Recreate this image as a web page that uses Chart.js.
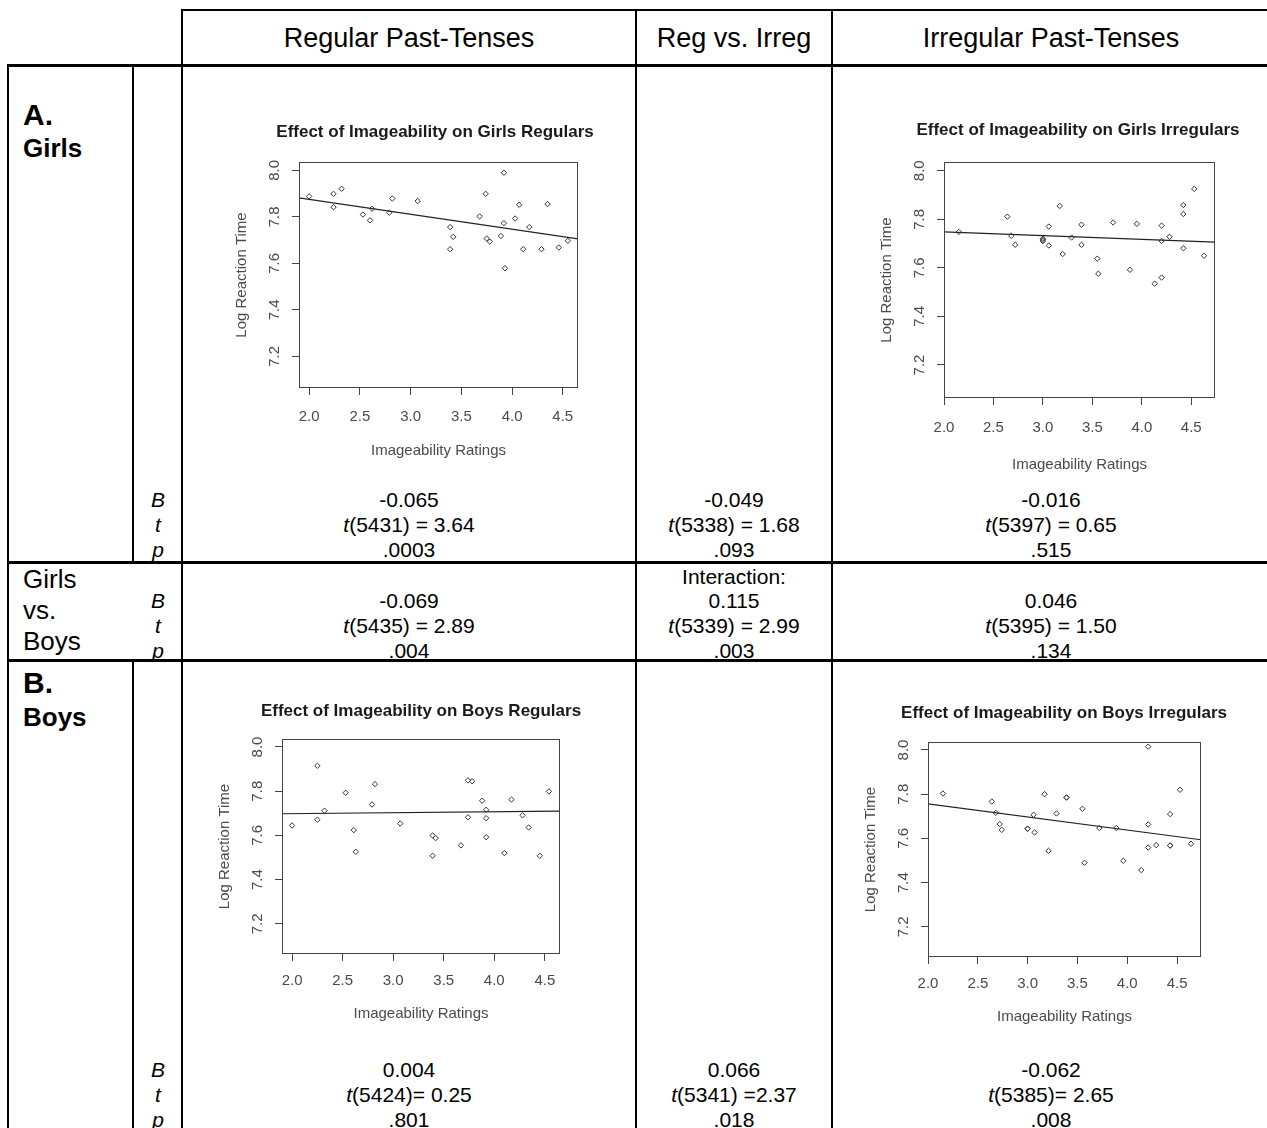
<!DOCTYPE html>
<html><head><meta charset="utf-8">
<script src="https://cdn.jsdelivr.net/npm/chart.js@4.4.1/dist/chart.umd.min.js"></script>
<style>
html,body{margin:0;padding:0;background:#fff;overflow:hidden;width:1267px;height:1128px}
#page{position:relative;width:1267px;height:1128px;font-family:"Liberation Sans",Arial,sans-serif;color:#000;overflow:hidden}
.ln{position:absolute;background:#000}
.tx{position:absolute;white-space:nowrap;line-height:1}
canvas{position:absolute}
</style></head><body><div id="page"></div>
<script>
// ---------------- DATA ----------------
const colHeaders = ['Regular Past-Tenses', 'Reg vs. Irreg', 'Irregular Past-Tenses'];
const statLetters = ['B', 't', 'p'];

const girlsB = ['-0.065', '-0.049', '-0.016'];
const girlsT = ['(5431) = 3.64', '(5338) = 1.68', '(5397) = 0.65'];
const girlsP = ['.0003', '.093', '.515'];

const compNote = ['', 'Interaction:', ''];
const compB = ['-0.069', '0.115', '0.046'];
const compT = ['(5435) = 2.89', '(5339) = 2.99', '(5395) = 1.50'];
const compP = ['.004', '.003', '.134'];

const boysB = ['0.004', '0.066', '-0.062'];
const boysT = ['(5424)= 0.25', '(5341) =2.37', '(5385)= 2.65'];
const boysP = ['.801', '.018', '.008'];

const chartTitles = ['Effect of Imageability on Girls Regulars', 'Effect of Imageability on Girls Irregulars',
                     'Effect of Imageability on Boys Regulars', 'Effect of Imageability on Boys Irregulars'];
const xAxisTitle = 'Imageability Ratings';
const yAxisTitle = 'Log Reaction Time';
const xTickVals = [2.0, 2.5, 3.0, 3.5, 4.0, 4.5];
const yTickVals = [7.2, 7.4, 7.6, 7.8, 8.0];

const girlsRegX = [2.00, 2.24, 2.24, 2.32, 2.53, 2.62, 2.60, 2.79, 2.82, 3.07, 3.39, 3.42, 3.39, 3.68, 3.74, 3.75, 3.78, 3.92, 3.92, 3.89, 3.93, 4.03, 4.07, 4.11, 4.17, 4.29, 4.35, 4.46, 4.55];
const girlsRegY = [7.888, 7.899, 7.842, 7.921, 7.810, 7.835, 7.785, 7.818, 7.879, 7.868, 7.756, 7.714, 7.661, 7.802, 7.899, 7.707, 7.694, 7.990, 7.773, 7.718, 7.579, 7.793, 7.852, 7.661, 7.756, 7.661, 7.855, 7.668, 7.697];
const girlsRegFit = [7.882, 7.705];

const girlsIrrX = [2.15, 2.64, 2.68, 2.72, 3.00, 3.00, 3.00, 3.06, 3.06, 3.17, 3.20, 3.29, 3.39, 3.39, 3.55, 3.56, 3.71, 3.88, 3.95, 4.13, 4.20, 4.20, 4.20, 4.28, 4.42, 4.42, 4.42, 4.53, 4.63];
const girlsIrrY = [7.748, 7.811, 7.732, 7.695, 7.720, 7.715, 7.710, 7.770, 7.692, 7.855, 7.657, 7.725, 7.778, 7.695, 7.638, 7.576, 7.787, 7.592, 7.781, 7.535, 7.774, 7.711, 7.560, 7.728, 7.859, 7.822, 7.681, 7.925, 7.650];
const girlsIrrFit = [7.748, 7.706];

const boysRegX = [2.00, 2.25, 2.25, 2.32, 2.53, 2.61, 2.63, 2.79, 2.82, 3.07, 3.39, 3.39, 3.42, 3.67, 3.74, 3.78, 3.74, 3.88, 3.92, 3.92, 3.92, 4.10, 4.17, 4.28, 4.34, 4.45, 4.54];
const boysRegY = [7.645, 7.915, 7.671, 7.712, 7.793, 7.624, 7.526, 7.740, 7.832, 7.654, 7.600, 7.508, 7.588, 7.555, 7.849, 7.845, 7.682, 7.757, 7.716, 7.678, 7.592, 7.520, 7.762, 7.691, 7.636, 7.508, 7.799];
const boysRegFit = [7.698, 7.710];

const boysIrrX = [2.15, 2.64, 2.68, 2.72, 2.74, 3.00, 3.00, 3.06, 3.07, 3.17, 3.21, 3.29, 3.39, 3.39, 3.55, 3.57, 3.72, 3.89, 3.96, 4.14, 4.21, 4.21, 4.21, 4.29, 4.43, 4.43, 4.43, 4.53, 4.64];
const boysIrrY = [7.803, 7.767, 7.716, 7.665, 7.639, 7.644, 7.644, 7.707, 7.627, 7.800, 7.544, 7.713, 7.785, 7.785, 7.734, 7.490, 7.647, 7.647, 7.499, 7.457, 8.015, 7.663, 7.559, 7.570, 7.710, 7.568, 7.568, 7.820, 7.576];
const boysIrrFit = [7.756, 7.594];

const regXRange = [1.9, 4.65];
const irrXRange = [2.0, 4.74];
const yRange = [7.064, 8.036];

// ---------------- LAYOUT ----------------
const FONT = '"Liberation Sans", Arial, sans-serif';
const page = document.getElementById('page');
function line(l, t, w, h) { const d = document.createElement('div'); d.className = 'ln'; Object.assign(d.style, {left: l + 'px', top: t + 'px', width: w + 'px', height: h + 'px'}); page.appendChild(d); }
function text(str, x, y, size, opts = {}) {
  const d = document.createElement('div'); d.className = 'tx';
  d.innerHTML = str;
  d.style.left = x + 'px'; d.style.top = y + 'px'; d.style.fontSize = size + 'px';
  if (opts.bold) d.style.fontWeight = 'bold';
  if (opts.italic) d.style.fontStyle = 'italic';
  d.style.transform = opts.left ? 'translate(0,-50%)' : 'translate(-50%,-50%)';
  page.appendChild(d);
}
// table lines
line(182, 9, 1085, 2);
line(8, 64, 1259, 3);
line(8, 561, 1259, 3);
line(8, 659, 1259, 3);
line(7, 64, 2, 1064);
line(132, 64, 2, 498);
line(132, 660, 2, 468);
line(181, 9, 2, 1119);
line(635, 9, 2, 1119);
line(831, 9, 2, 1119);

const colCx = [409, 734, 1051];
colHeaders.forEach((h, i) => text(h, colCx[i], 38, 27));

text('A.', 23, 115, 30, {bold: true, left: true});
text('Girls', 23, 148, 26, {bold: true, left: true});
text('Girls', 23, 579, 26, {left: true});
text('vs.', 23, 610, 26, {left: true});
text('Boys', 23, 641, 26, {left: true});
text('B.', 23, 683, 30, {bold: true, left: true});
text('Boys', 23, 717, 26, {bold: true, left: true});

function statBlock(ys, B, T, P) {
  statLetters.forEach((s, k) => text(s, 158, ys[k], 21, {italic: true}));
  for (let i = 0; i < 3; i++) {
    text(B[i], colCx[i], ys[0], 21);
    text('<i>t</i>' + T[i], colCx[i], ys[1], 21);
    text(P[i], colCx[i], ys[2], 21);
  }
}
statBlock([499, 524, 549], girlsB, girlsT, girlsP);
statBlock([600, 625, 650], compB, compT, compP);
compNote.forEach((n, i) => { if (n) text(n, colCx[i], 576, 21); });
statBlock([1069, 1094, 1119], boysB, boysT, boysP);

// ---------------- CHARTS ----------------
const framePlugin = {
  id: 'frame',
  afterDatasetsDraw(chart) {
    const a = chart.chartArea, ctx = chart.ctx;
    ctx.save(); ctx.strokeStyle = '#444'; ctx.lineWidth = 1;
    ctx.strokeRect(Math.round(a.left) + 0.5, Math.round(a.top) + 0.5, Math.round(a.right - a.left) - 1, Math.round(a.bottom - a.top) - 1);
    ctx.restore();
  }
};

function makeChart(cfg) {
  const [bl, bt, br, bb] = cfg.box;
  const L = bl - 71, W = 2 * (cfg.titleCx - L), R = L + W - br;
  const T = bt - 60, xH = cfg.xTitleOff + 12, H = bb - T + xH;
  const titlePt = 60 - cfg.titleOff - 10.2, titlePb = 60 - 20.4 - titlePt;
  const c = document.createElement('canvas');
  c.width = W; c.height = H;
  Object.assign(c.style, {left: L + 'px', top: T + 'px', width: W + 'px', height: H + 'px'});
  page.appendChild(c);
  const pts = cfg.xs.map((x, i) => ({x, y: cfg.ys[i]}));
  const fit = [{x: cfg.xr[0], y: cfg.fit[0]}, {x: cfg.xr[1], y: cfg.fit[1]}];
  const axisFont = {family: FONT, size: 15};
  const gridOpts = {drawOnChartArea: false, drawTicks: true, tickLength: 7, color: '#444', lineWidth: 1};
  new Chart(c, {
    type: 'scatter',
    data: {datasets: [
      {data: pts, pointStyle: 'rectRot', pointRadius: 2.7, borderColor: '#333', backgroundColor: 'rgba(0,0,0,0)', borderWidth: 1},
      {data: fit, showLine: true, pointRadius: 0, borderColor: '#222', borderWidth: 1.2, fill: false}
    ]},
    options: {
      responsive: false, animation: false, devicePixelRatio: 1,
      layout: {padding: 0},
      plugins: {
        legend: {display: false}, tooltip: {enabled: false},
        title: {display: true, text: cfg.title, color: '#1a1a1a', font: {family: FONT, size: 17, weight: 'bold', lineHeight: 1.2}, padding: {top: titlePt, bottom: titlePb}}
      },
      scales: {
        x: {type: 'linear', position: 'bottom', min: cfg.xr[0], max: cfg.xr[1], bounds: 'data',
            grid: gridOpts, border: {display: false},
            afterBuildTicks: s => { s.ticks = xTickVals.map(v => ({value: v})); },
            ticks: {autoSkip: false, maxRotation: 0, padding: cfg.tickOff - 16, color: '#4a4a4a', font: axisFont, callback: v => Number(v).toFixed(1)},
            title: {display: true, text: xAxisTitle, color: '#4a4a4a', font: axisFont, padding: {top: 0, bottom: 3}},
            afterFit: s => { s.height = xH; }},
        y: {type: 'linear', position: 'left', min: yRange[0], max: yRange[1], bounds: 'data',
            grid: gridOpts, border: {display: false},
            afterBuildTicks: s => { s.ticks = yTickVals.map(v => ({value: v})); },
            ticks: {autoSkip: false, minRotation: 90, maxRotation: 90, crossAlign: 'center', padding: 6.5, color: '#4a4a4a', font: axisFont, callback: v => Number(v).toFixed(1)},
            title: {display: true, text: yAxisTitle, color: '#4a4a4a', font: axisFont, padding: {top: 5, bottom: 0}},
            afterFit: s => { s.width = 71; }},
        yR: {type: 'linear', position: 'right', display: true, grid: {display: false}, border: {display: false}, ticks: {display: false},
             afterFit: s => { s.width = R; }}
      }
    },
    plugins: [framePlugin]
  });
}

makeChart({title: chartTitles[0], box: [299, 162, 578, 388], titleCx: 435, titleOff: 30, tickOff: 29, xTitleOff: 63, xr: regXRange, xs: girlsRegX, ys: girlsRegY, fit: girlsRegFit});
makeChart({title: chartTitles[1], box: [944, 162, 1215, 398], titleCx: 1078, titleOff: 32, tickOff: 30, xTitleOff: 67, xr: irrXRange, xs: girlsIrrX, ys: girlsIrrY, fit: girlsIrrFit});
makeChart({title: chartTitles[2], box: [282, 739, 560, 954], titleCx: 421, titleOff: 28, tickOff: 27, xTitleOff: 60, xr: regXRange, xs: boysRegX, ys: boysRegY, fit: boysRegFit});
makeChart({title: chartTitles[3], box: [928, 742, 1201, 957], titleCx: 1064, titleOff: 29, tickOff: 27, xTitleOff: 60, xr: irrXRange, xs: boysIrrX, ys: boysIrrY, fit: boysIrrFit});
</script></body></html>
